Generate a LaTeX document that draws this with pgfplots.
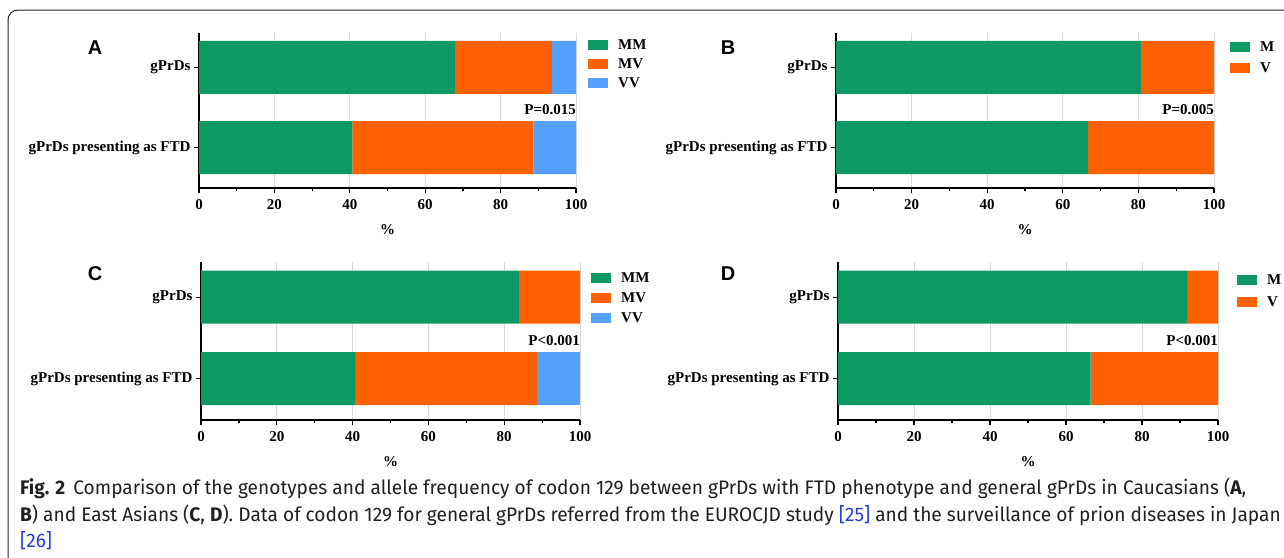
\documentclass[border=0pt]{standalone}
\usepackage{pgfplots}
\pgfplotsset{compat=1.18}
\usepackage{fontspec}
\setmainfont{Liberation Serif}
\newfontfamily\capfont[FakeStretch=0.975]{Fira Sans}
\newfontfamily\letterfont{Liberation Sans}
\definecolor{cGreen}{RGB}{12,153,100}
\definecolor{cOrange}{RGB}{255,97,0}
\definecolor{cBlue}{RGB}{85,160,251}
\definecolor{cLink}{RGB}{40,60,220}
\definecolor{cCap}{RGB}{35,31,32}
\newcommand{\tf}{\bfseries\fontsize{15}{17}\selectfont}
\pgfplotsset{
 panel/.style={
  scale only axis, width=377pt, height=155pt,
  xbar stacked, bar width=53pt,
  xmin=0, xmax=100, ymin=-0.506, ymax=1.431,
  xtick={0,20,...,100}, minor xtick={10,30,...,90},
  ytick={0,1}, yticklabels={gPrDs presenting as FTD, gPrDs},
  axis x line*=bottom, axis y line*=left,
  axis line style={line width=1.6pt, black},
  xmajorgrids, major x grid style={black!15, line width=0.7pt},
  tick style={line width=1.2pt, black},
  major tick length=5pt, minor tick length=3pt,
  tick align=outside,
  ticklabel style={font=\tf},
  xticklabel style={yshift=-3pt},
  /pgf/number format/assume math mode=true,
  xlabel={\%}, xlabel style={font=\tf, yshift=-8pt},
  legend style={draw=none, fill=none, font=\tf, anchor=north west, at={(1,1)}, inner sep=0pt,
    legend cell align=left, nodes={inner sep=1pt, text height=11pt, text depth=2pt},
    /tikz/every odd column/.append style={column sep=9pt}},
  legend image code/.code={\fill[##1] (0pt,-5pt) rectangle (20pt,5pt);},
  every axis plot/.append style={draw=none},
 }
}
\begin{document}
\begin{tikzpicture}
\clip (0,0) rectangle (1284pt,-557pt);
\fill[white] (0,0) rectangle (1284pt,-557pt);
\draw[line width=1pt, black!85] (1300pt,-10pt) -- (18pt,-10pt) arc[start angle=90,end angle=180,radius=10pt] -- (8pt,-580pt);
% Panel A
\begin{axis}[panel, at={(199pt,-188pt)}, anchor=south west, legend style={xshift=12pt, yshift=-4.5pt, row sep=4pt}]
\addplot[fill=cGreen] coordinates {(40.7,0) (67.9,1)};
\addplot[fill=cOrange] coordinates {(48.0,0) (25.7,1)};
\addplot[fill=cBlue] coordinates {(11.3,0) (6.4,1)};
\legend{MM,MV,VV}
\node[anchor=east, font=\tf, inner sep=0pt] at (axis cs:100,0.47) {P=0.015};
\end{axis}
% Panel B
\begin{axis}[panel, width=378pt, at={(836pt,-188pt)}, anchor=south west, legend style={xshift=16pt, yshift=-6.5pt, row sep=6pt}]
\addplot[fill=cGreen] coordinates {(66.7,0) (80.7,1)};
\addplot[fill=cOrange] coordinates {(33.3,0) (19.3,1)};
\legend{M,V}
\node[anchor=east, font=\tf, inner sep=0pt] at (axis cs:100,0.47) {P=0.005};
\end{axis}
% Panel C
\begin{axis}[panel, width=379pt, height=158pt, at={(201pt,-420pt)}, anchor=south west, legend style={xshift=11pt, yshift=-8pt, row sep=5pt}]
\addplot[fill=cGreen] coordinates {(40.6,0) (83.9,1)};
\addplot[fill=cOrange] coordinates {(48.1,0) (16.1,1)};
\addplot[fill=cBlue] coordinates {(11.3,0) (0,1)};
\legend{MM,MV,VV}
\node[anchor=east, font=\tf, inner sep=0pt] at (axis cs:100,0.47) {P<0.001};
\end{axis}
% Panel D
\begin{axis}[panel, width=380pt, height=158pt, at={(838pt,-420pt)}, anchor=south west, legend style={xshift=19pt, yshift=-10.5pt, row sep=7pt}]
\addplot[fill=cGreen] coordinates {(66.5,0) (91.9,1)};
\addplot[fill=cOrange] coordinates {(33.5,0) (8.1,1)};
\legend{M,V}
\node[anchor=east, font=\tf, inner sep=0pt] at (axis cs:100,0.47) {P<0.001};
\end{axis}
% panel letters
\node[font=\letterfont\bfseries\fontsize{20}{20}\selectfont] at (95pt,-48pt) {A};
\node[font=\letterfont\bfseries\fontsize{20}{20}\selectfont] at (728pt,-48pt) {B};
\node[font=\letterfont\bfseries\fontsize{20}{20}\selectfont] at (95pt,-274pt) {C};
\node[font=\letterfont\bfseries\fontsize{20}{20}\selectfont] at (728pt,-274pt) {D};
% caption
\begin{scope}[every node/.style={anchor=base west, inner sep=0pt, text=cCap, font=\capfont\fontsize{19.6}{24}\selectfont}]
\node at (20pt,-494pt) {\textbf{Fig. 2}\hspace{8pt}Comparison of the genotypes and allele frequency of codon 129 between gPrDs with FTD phenotype and general gPrDs in Caucasians (\textbf{A},};
\node at (20pt,-521pt) {\textbf{B}) and East Asians (\textbf{C}, \textbf{D}). Data of codon 129 for general gPrDs referred from the EUROCJD study \textcolor{cLink}{[25]} and the surveillance of prion diseases in Japan};
\node at (20pt,-547pt) {\textcolor{cLink}{[26]}};
\end{scope}
\end{tikzpicture}
\end{document}
